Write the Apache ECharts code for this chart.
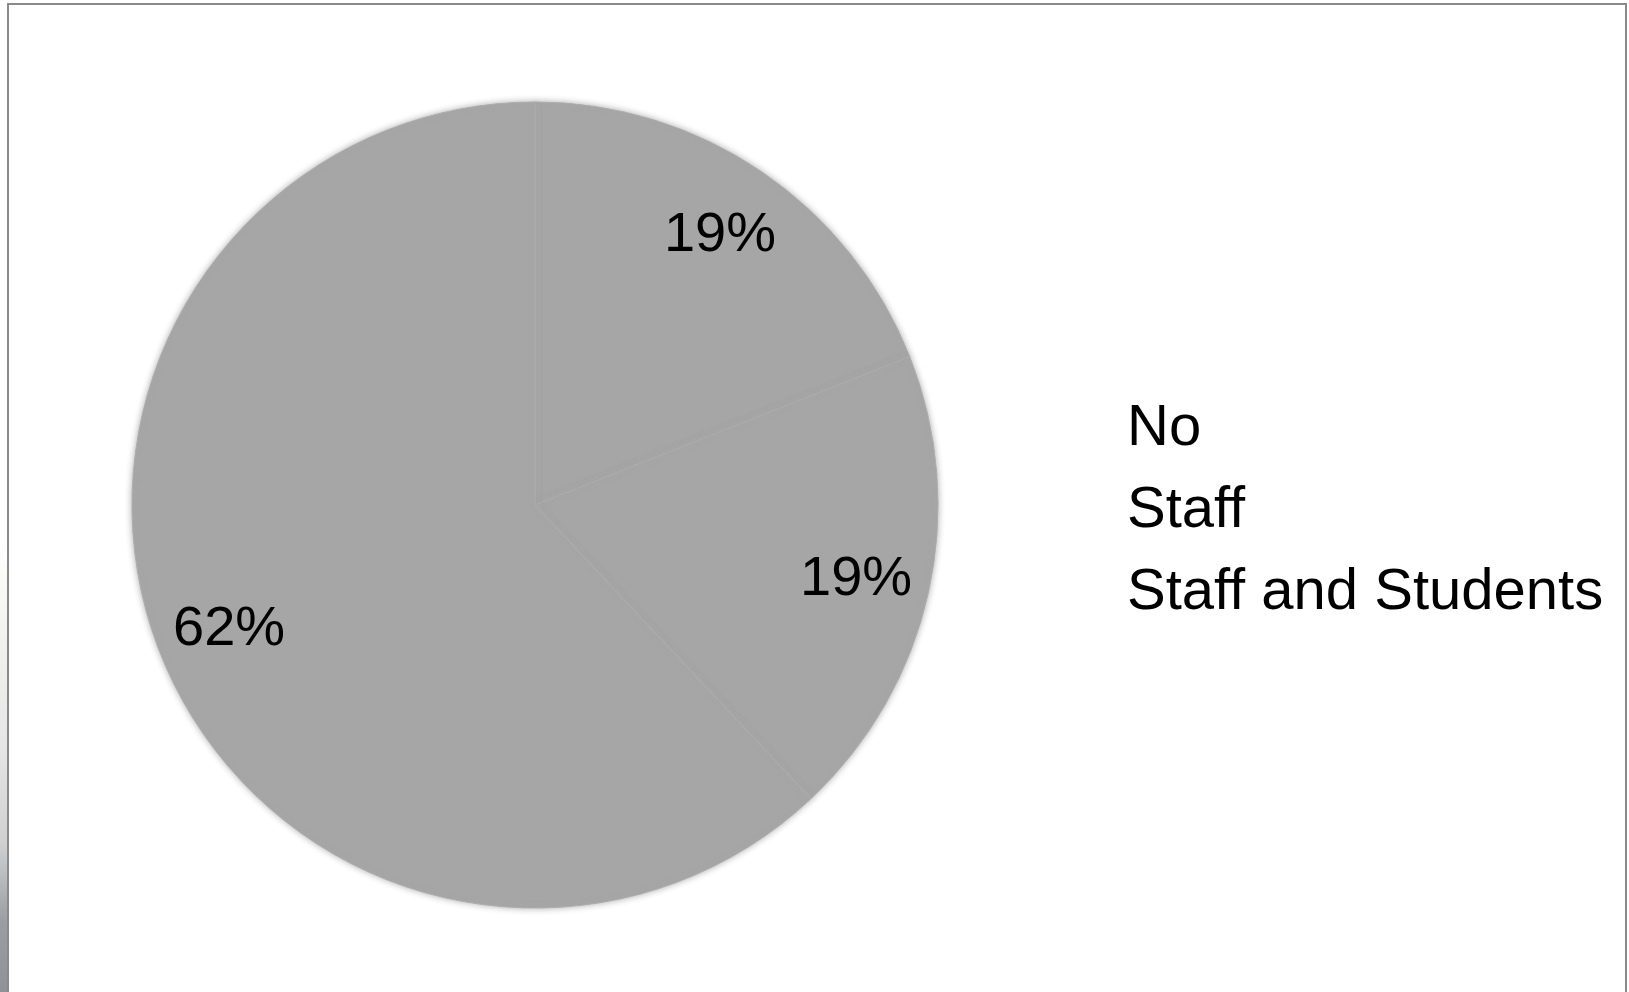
<!DOCTYPE html>
<html>
<head>
<meta charset="utf-8">
<script src="https://cdn.jsdelivr.net/npm/echarts@6/dist/echarts.min.js"></script>
<style>
html,body{margin:0;padding:0;width:1629px;height:992px;overflow:hidden;background:#fff;}
#strip{position:absolute;left:0;top:0;width:8px;height:992px;background:linear-gradient(to bottom,#ffffff 0%,#ffffff 55%,#f4f4f2 62%,#e6e6e6 75%,#d0d0d0 85%,#9a9ea2 93%,#8f9397 100%);}
#frame{position:absolute;left:7px;top:3px;width:1620px;height:1000px;border:2px solid #8a8a8a;box-sizing:border-box;}
#chart{position:absolute;left:0;top:0;width:1629px;height:992px;}
</style>
</head>
<body>
<div id="strip"></div>
<div id="frame"></div>
<div id="chart"></div>
<script>
const categories = ['No', 'Staff', 'Staff and Students'];
const percents = [19, 19, 62];

const chart = echarts.init(document.getElementById('chart'), null, {renderer: 'canvas'});
const data = categories.map((c, i) => ({ name: c, value: percents[i] }));
const grey = '#a6a6a6';
const font = 'Liberation Sans, Arial, sans-serif';

chart.setOption({
  animation: false,
  color: [grey, grey, grey],
  legend: {
    orient: 'vertical',
    left: 1116,
    top: 394,
    data: categories,
    icon: 'rect',
    itemWidth: 0,
    itemHeight: 0,
    itemGap: 22,
    selectedMode: false,
    textStyle: { fontFamily: font, fontSize: 58, color: '#000', lineHeight: 60 }
  },
  series: [
    {
      type: 'pie',
      center: [535, 505],
      radius: [0, 403],
      startAngle: 90,
      clockwise: true,
      silent: true,
      data: data,
      label: { show: false },
      labelLine: { show: false },
      itemStyle: {
        color: grey,
        borderColor: '#acacac',
        borderWidth: 1,
        shadowBlur: 6,
        shadowColor: 'rgba(166,166,166,0.9)'
      }
    },
    {
      type: 'pie',
      center: [535, 508],
      radius: [248, 404],
      startAngle: 90,
      clockwise: true,
      silent: true,
      data: data,
      legendHoverLink: false,
      itemStyle: { color: 'rgba(0,0,0,0)', borderWidth: 0 },
      label: {
        show: true,
        position: 'inside',
        formatter: p => p.value + '%',
        fontFamily: font,
        fontSize: 56,
        color: '#000'
      },
      labelLine: { show: false }
    }
  ]
});
</script>
</body>
</html>
